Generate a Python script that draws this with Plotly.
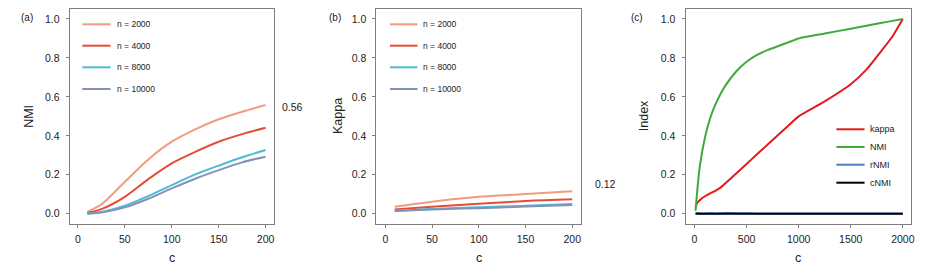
import plotly.graph_objects as go

W, H = 926, 273

# ---------------- data ----------------
c_small = [10, 25, 50, 75, 100, 125, 150, 175, 200]
nmi_2000 = [0.010, 0.048, 0.164, 0.279, 0.370, 0.433, 0.485, 0.524, 0.558]
nmi_4000 = [0.005, 0.024, 0.087, 0.178, 0.259, 0.318, 0.370, 0.409, 0.442]
nmi_8000 = [0.002, 0.009, 0.041, 0.091, 0.147, 0.202, 0.247, 0.290, 0.327]
nmi_10000 = [0.000, 0.006, 0.033, 0.077, 0.130, 0.180, 0.224, 0.264, 0.293]

c_kappa = [10, 50, 100, 150, 200]
kappa_2000 = [0.036, 0.062, 0.087, 0.101, 0.116]
kappa_4000 = [0.022, 0.036, 0.051, 0.065, 0.074]
kappa_8000 = [0.015, 0.025, 0.033, 0.041, 0.050]
kappa_10000 = [0.014, 0.022, 0.029, 0.037, 0.045]

series_names = ["n = 2000", "n = 4000", "n = 8000", "n = 10000"]
series_colors = ["#F39B7F", "#E64B35", "#4DBBD5", "#8491B4"]

c_large = [10, 25, 50, 100, 150, 200, 250, 300, 400, 500, 600, 700, 800, 900,
           1000, 1250, 1500, 1650, 1800, 1900, 2000]
idx_kappa = [0.035, 0.055, 0.070, 0.090, 0.105, 0.118, 0.134, 0.158, 0.207, 0.256,
             0.305, 0.354, 0.403, 0.452, 0.500, 0.577, 0.665, 0.740, 0.840, 0.910, 1.000]
idx_nmi = [0.015, 0.110, 0.240, 0.390, 0.490, 0.560, 0.615, 0.660, 0.730, 0.780,
           0.815, 0.840, 0.860, 0.880, 0.900, 0.925, 0.950, 0.965, 0.980, 0.990, 1.000]
idx_rnmi = [0.003, 0.004, 0.003, 0.002, 0.003, 0.002, 0.003, 0.004, 0.003, 0.003,
            0.002, 0.002, 0.002, 0.001, 0.001, 0.001, 0.002, 0.002, 0.001, 0.001, 0.001]
idx_cnmi = [0.000] * len(c_large)
index_names = ["kappa", "NMI", "rNMI", "cNMI"]
index_colors = ["#E41A1C", "#3FAA3C", "#4A7FC1", "#000000"]

y_ticks = [0.0, 0.2, 0.4, 0.6, 0.8, 1.0]
x_ticks_small = [0, 50, 100, 150, 200]
x_ticks_large = [0, 500, 1000, 1500, 2000]

FONT = "Liberation Sans, Arial, sans-serif"

def px_x(p):
    return p / W

def px_y(p):
    return 1 - p / H

fig = go.Figure()

for name, col, ys in zip(series_names, series_colors, [nmi_2000, nmi_4000, nmi_8000, nmi_10000]):
    fig.add_trace(go.Scatter(x=c_small, y=ys, mode="lines", name=name,
                             line=dict(color=col, width=2, shape="spline", smoothing=0.8),
                             xaxis="x", yaxis="y", showlegend=False))
for name, col, ys in zip(series_names, series_colors, [kappa_2000, kappa_4000, kappa_8000, kappa_10000]):
    fig.add_trace(go.Scatter(x=c_kappa, y=ys, mode="lines", name=name,
                             line=dict(color=col, width=2, shape="spline"),
                             xaxis="x2", yaxis="y2", showlegend=False))
for name, col, ys in zip(index_names, index_colors, [idx_kappa, idx_nmi, idx_rnmi, idx_cnmi]):
    fig.add_trace(go.Scatter(x=c_large, y=ys, mode="lines", name=name,
                             line=dict(color=col, width=2, shape="spline", smoothing=0.5),
                             xaxis="x3", yaxis="y3", showlegend=False))

boxes = [(70, 275), (378, 584), (688.5, 915)]
ytop, ybot = 9, 224.3
yrange = [-0.054, 1.051]

axis_common = dict(showline=True, mirror=True, linecolor="#7F7F7F", linewidth=1,
                   ticks="outside", ticklen=3, tickcolor="#7F7F7F", tickwidth=1,
                   showgrid=False, zeroline=False,
                   tickfont=dict(family=FONT, size=10.5, color="#222222"))

xranges = [[-8.8, 208.8], [-9.6, 209.9], [-86, 2079]]
xticks = [x_ticks_small, x_ticks_small, x_ticks_large]
layout_axes = {}
for i, ((l, r), xr, xt) in enumerate(zip(boxes, xranges, xticks)):
    sfx = "" if i == 0 else str(i + 1)
    layout_axes["xaxis" + sfx] = dict(axis_common, domain=[px_x(l), px_x(r)], range=xr,
                                      tickvals=xt, anchor="y" + sfx,
                                      ticklabelstandoff=2)
    layout_axes["yaxis" + sfx] = dict(axis_common, domain=[px_y(ybot), px_y(ytop)],
                                      range=yrange, tickvals=y_ticks, tickformat=".1f",
                                      anchor="x" + sfx, ticklabelstandoff=4)

fig.update_layout(width=W, height=H, margin=dict(l=0, r=0, t=0, b=0),
                  paper_bgcolor="white", plot_bgcolor="white",
                  font=dict(family=FONT, color="#222222"), **layout_axes)

annotations = []
shapes = []

def text(x, y, s, size, xanchor="center", angle=0):
    annotations.append(dict(x=px_x(x), y=px_y(y), xref="paper", yref="paper", text=s,
                            showarrow=False, xanchor=xanchor, yanchor="middle",
                            textangle=angle, font=dict(family=FONT, size=size, color="#222222")))

# panel labels
text(26.7, 17, "(a)", 10)
text(336, 17, "(b)", 10)
text(639.5, 17, "(c)", 10)
# axis titles
text(29, 116, "NMI", 12.5, angle=-90)
text(339.5, 116, "Kappa", 12.5, angle=-90)
text(647, 116, "Index", 12.5, angle=-90)
text(172.5, 258, "c", 12.5)
text(481, 258, "c", 12.5)
text(801.5, 258, "c", 12.5)
# end value labels
text(281.5, 107, "0.56", 10.5, xanchor="left")
text(595.5, 184.3, "0.12", 10.5, xanchor="left")

# legends
rows_ab = [24.3, 45.7, 67.3, 89]
for (x0, x1, xt) in [(82.7, 111, 115), (391.7, 419.3, 423.3)]:
    for yy, name, col in zip(rows_ab, series_names, series_colors):
        shapes.append(dict(type="line", xref="paper", yref="paper", x0=px_x(x0), x1=px_x(x1),
                           y0=px_y(yy), y1=px_y(yy), line=dict(color=col, width=2)))
        text(xt, yy, name, 8.5, xanchor="left")
rows_c = [129.3, 147, 164.7, 182.7]
for yy, name, col in zip(rows_c, index_names, index_colors):
    shapes.append(dict(type="line", xref="paper", yref="paper", x0=px_x(840), x1=px_x(868.3),
                       y0=px_y(yy), y1=px_y(yy), line=dict(color=col, width=2)))
    text(871.7, yy, name, 9, xanchor="left")

fig.update_layout(annotations=annotations, shapes=shapes)
fig.write_html("out.html", config={"displayModeBar": False},
               post_script="document.body.style.margin='0';document.body.style.overflow='hidden';")
